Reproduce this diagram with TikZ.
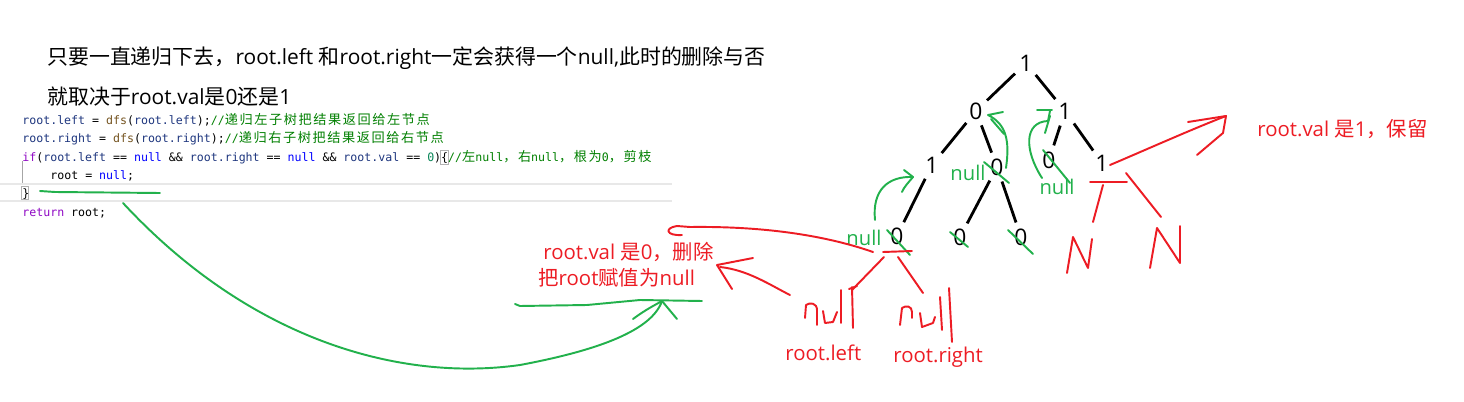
\documentclass[tikz,border=0pt]{standalone}
\usepackage{xcolor}
\usepackage{fontspec}
\usepackage{tikz}

\setmainfont{Open Sans}
\newfontfamily\cjk{Noto Sans CJK SC}
\newfontfamily\codefont{DejaVu Sans Mono}
\newfontfamily\cmtfont[LetterSpace=12]{Noto Sans CJK SC}

\definecolor{pred}{RGB}{237,28,36}
\definecolor{pgreen}{RGB}{34,177,76}
\definecolor{cid}{RGB}{31,55,127}
\definecolor{cfn}{RGB}{116,83,31}
\definecolor{ckw}{RGB}{143,8,196}
\definecolor{cnull}{RGB}{0,0,255}
\definecolor{cnum}{RGB}{9,134,88}
\definecolor{ccmt}{RGB}{0,128,0}
\definecolor{cline}{RGB}{232,232,232}

\newcommand{\kid}[1]{\textcolor{cid}{#1}}
\newcommand{\kfn}[1]{\textcolor{cfn}{#1}}
\newcommand{\kkw}[1]{\textcolor{ckw}{#1}}
\newcommand{\knull}[1]{\textcolor{cnull}{#1}}
\newcommand{\knum}[1]{\textcolor{cnum}{#1}}
\newcommand{\kcmt}[1]{\textcolor{ccmt}{#1}}
\newcommand{\kcj}[1]{{\cmtfont\fontsize{7.5}{9}\selectfont #1}}

\begin{document}
\begin{tikzpicture}[x=0.02cm, y=-0.02cm,
    tnode/.style={circle, minimum size=0.6cm, inner sep=0pt, font=\fontsize{13}{15}\selectfont},
    edge/.style={line width=1.6pt},
    pen/.style={line width=1.1pt, line cap=round, line join=round},
    grn/.style={pen, draw=pgreen},
    rd/.style={pen, draw=pred},
    prose/.style={anchor=west, inner sep=0pt, font=\fontsize{11.6}{14}\selectfont},
    headline/.style={prose, font=\fontsize{11.9}{14}\selectfont},
    codeln/.style={anchor=base west, inner sep=0pt, font=\codefont\fontsize{6.6}{8}\selectfont},
    gnull/.style={text=pgreen, inner sep=0pt, font=\fontsize{11.5}{13}\selectfont}]
    % Page
    \fill[white] (0,0) rectangle (1464,402);
    \useasboundingbox (0,0) rectangle (1464,402);

    % Explanation on top
    \node[headline] (t1) at (47,58) {{\cjk 只要一直递归下去，}root.left {\cjk 和}root.right{\cjk 一定会获得一个}null,{\cjk 此时的删除与否}};
    \node[headline] (t2) at (47,97) {{\cjk 就取决于}root.val{\cjk 是}0{\cjk 还是}1};

    % Code from the editor
    \draw[cline, line width=1.1pt] (0,184) -- (672,184);
    \draw[cline, line width=1.1pt] (0,201) -- (672,201);
    \draw[gray!70, line width=0.5pt] (22,161) -- (22,183);
    \draw[gray!60, line width=0.4pt] (21,186) rectangle (28,199);
    \draw[gray!60, line width=0.4pt] (440,150) rectangle (448,164);
    \node[codeln] (c1) at (22,125) {\kid{root.left} = \kfn{dfs}(\kid{root.left});\kcmt{//\kcj{递归左子树把结果返回给左节点}}};
    \node[codeln] (c2) at (22,143) {\kid{root.right} = \kfn{dfs}(\kid{root.right});\kcmt{//\kcj{递归右子树把结果返回给右节点}}};
    \node[codeln] (c3) at (22,161) {\kkw{if}(\kid{root.left} == \knull{null} \&\& \kid{root.right} == \knull{null} \&\& \kid{root.val} == \knum{0})\{\kcmt{//\kcj{左}null\kcj{，右}null\kcj{，根为}0\kcj{，剪枝}}};
    \node[codeln] (c4) at (50,179) {root = \knull{null};};
    \node[codeln] (c5) at (22,197) {\}};
    \node[codeln] (c6) at (22,216) {\kkw{return} root;};

    % Green mark from the code down to the note
    \draw[grn] (40,191) -- (55,192) -- (160,193);
    \draw[grn] (123,203) .. controls (250,340) and (400,382) .. (520,365) .. controls (600,350) and (652,330) .. (662,301);
    \draw[grn] (633,319) .. controls (645,310) and (655,305) .. (662,301) -- (677,319);
    \draw[grn] (515,304) -- (520,306) -- (587,305) -- (640,300) -- (702,301);

    % Note in red
    \node[prose, text=pred] (r1) at (543,252) {root.val {\cjk 是}0{\cjk ，删除}};
    \node[prose, text=pred] (r2) at (538,278) {{\cjk 把}root{\cjk 赋值为}null};

    % Tree
    \node[tnode] (n1) at (1026,63) {1};
    \node[tnode] (n2) at (976,111) {0};
    \node[tnode] (n3) at (1065,111) {1};
    \node[tnode] (n4) at (932,165) {1};
    \node[tnode] (n5) at (997,167) {0};
    \node[tnode] (n6) at (1049,160) {0};
    \node[tnode] (n7) at (1102,163) {1};
    \node[tnode] (n8) at (897,236) {0};
    \node[tnode] (n9) at (960,237) {0};
    \node[tnode] (n10) at (1021,237) {0};
    \foreach \a/\b in {n1/n2,n1/n3,n2/n4,n2/n5,n3/n6,n3/n7,n4/n8,n5/n9,n5/n10}
        \draw[edge] (\a) -- (\b);

    % Pruned leaves crossed out
    \draw[grn] ([shift={(-13,-5)}]n5.center) -- ([shift={(12,16)}]n5.center);
    \draw[grn] ([shift={(-6,-10)}]n6.center) -- ([shift={(21,23)}]n6.center);
    \draw[grn] ([shift={(-10,-6)}]n8.center) -- ([shift={(13,19)}]n8.center);
    \draw[grn] ([shift={(-10,-5)}]n9.center) -- ([shift={(8,10)}]n9.center);
    \draw[grn] ([shift={(-13,-7)}]n10.center) -- ([shift={(12,17)}]n10.center);
    \node[gnull] (g1) at (968,173) {null};
    \node[gnull] (g2) at (1057,187) {null};
    \node[gnull] (g3) at (864,238) {null};

    % Green returns going up
    \draw[grn] (875,220) .. controls (872,190) and (888,176) .. (913,177);
    \draw[grn] (904,170) -- (913,177) .. controls (908,183) and (904,187) .. (902,192);
    \draw[grn] (1006,168) .. controls (1010,140) and (1006,124) .. (988,115) -- (1003,112);
    \draw[grn] (991,119) -- (1004,134);
    \draw[grn] (1042,178) .. controls (1024,150) and (1024,122) .. (1048,121) -- (1050,111);
    \draw[grn] (1037,110) -- (1052,110);
    \draw[grn] (1050,116) -- (1045,133);

    % Red marks on the left leaf
    \draw[rd] (873,252) .. controls (830,237) and (770,226) .. (690,227) -- (677,226) .. controls (664,228) and (666,236) .. (682,235);
    \draw[rd] (883,252) -- (912,251);
    \draw[rd] (884,257) -- (852,290);
    \draw[rd] (849,289) -- (857,286);
    \draw[rd] (898,257) -- (923,293);
    \draw[rd] (790,295) .. controls (770,285) and (748,270) .. (720,267);
    \draw[rd] (753,258) -- (717,265) -- (732,289);
    % handwritten null, null
    \draw[rd] (805,318) -- (806,305) .. controls (810,302) and (817,303) .. (817,310) -- (817,325);
    \draw[rd] (823,311) -- (825,323) -- (833,322) -- (837,312);
    \draw[rd] (841,290) -- (841,323);
    \draw[rd] (852,287) -- (853,328);
    \draw[rd] (900,325) -- (902,308) .. controls (906,305) and (912,306) .. (912,312) -- (912,318);
    \draw[rd] (920,313) -- (922,327) -- (933,323) -- (935,317);
    \draw[rd] (940,297) -- (942,330);
    \draw[rd] (949,288) -- (952,342);
    \node[prose, text=pred] (rl) at (785,353) {root.left};
    \node[prose, text=pred] (rr) at (893,357) {root.right};

    % Red marks on the right leaf
    \draw[rd] (1110,165) .. controls (1150,148) and (1190,130) .. (1226,116);
    \draw[rd] (1188,122) -- (1226,116) -- (1223,133) -- (1197,155);
    \draw[rd] (1090,182) -- (1127,182);
    \draw[rd] (1103,185) -- (1093,222);
    \draw[rd] (1126,173) -- (1161,217);
    \draw[rd] (1067,273) -- (1073,237) -- (1088,268) -- (1092,239);
    \draw[rd] (1150,268) -- (1157,228) -- (1180,263) -- (1180,226);
    \node[prose, text=pred] (r3) at (1257,129) {root.val {\cjk 是}1{\cjk ，保留}};
\end{tikzpicture}
\end{document}
